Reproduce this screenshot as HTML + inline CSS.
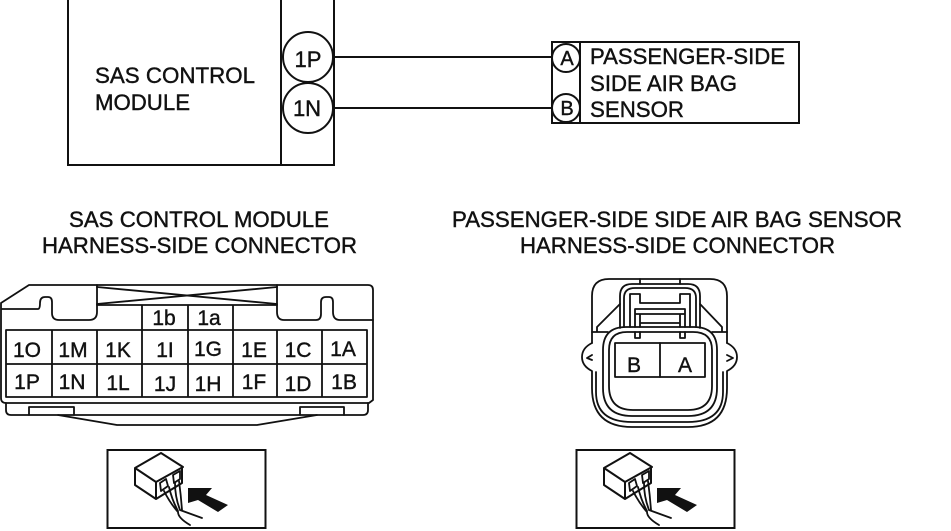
<!DOCTYPE html>
<html><head><meta charset="utf-8"><style>
html,body{margin:0;padding:0;background:#fff}
svg{display:block}
text{font-family:"Liberation Sans",sans-serif;fill:#111;font-size:22px;stroke:#111;stroke-width:.4}
.g text{font-size:21px;text-anchor:middle}
.l{fill:none;stroke:#111;stroke-width:1.8;stroke-linejoin:round;stroke-linecap:round}
.t{fill:none;stroke:#111;stroke-width:2}
</style></head><body>
<svg width="951" height="531" viewBox="0 0 951 531" xmlns="http://www.w3.org/2000/svg">
<defs><g id="ic">
<rect x="107.500" y="450" width="158" height="78" fill="none" stroke="#111" stroke-width="2"/>
<path class="l" style="stroke-width:2" d="M135,468L161,453L183,467L156,482ZM135,468V485L156,499V482M156,499L182,483V467"/>
<path class="l" d="M160,483L166,479L168,486L161,491ZM173,475L180,471V479L174,483Z"/>
<path class="l" d="M164,491Q170,503 178,512Q178,518 190,525M169,487Q172,500 178,511M175,483Q175,497 180,510L202,518M179,481Q181,496 182,510"/>
<path d="M188,488L212,488L206,495L228,505L218,512L198,500L188,503Z" fill="#111"/>
</g></defs>
<!-- top left module -->
<path class="t" d="M68,0V165H334V0M281,0V165"/>
<path class="t" d="M334,57H552M334,108H552"/>
<circle class="t" cx="308" cy="57" r="25"/>
<circle class="t" cx="308" cy="108" r="25"/>
<text x="308" y="67" text-anchor="middle" style="font-size:22px">1P</text>
<text x="307" y="116" text-anchor="middle" style="font-size:22px">1N</text>
<text x="95" y="83" textLength="160" lengthAdjust="spacingAndGlyphs">SAS CONTROL</text>
<text x="95" y="110" textLength="95" lengthAdjust="spacingAndGlyphs">MODULE</text>
<!-- top right -->
<rect class="t" x="552" y="42" width="247" height="81"/>
<path class="t" d="M580,42V123"/>
<circle class="t" cx="566" cy="58" r="14" style="fill:#fff"/>
<circle class="t" cx="566" cy="108" r="14" style="fill:#fff"/>
<text x="567" y="65" text-anchor="middle" style="font-size:20px">A</text>
<text x="567" y="115" text-anchor="middle" style="font-size:20px">B</text>
<text x="590" y="64" textLength="195" lengthAdjust="spacingAndGlyphs">PASSENGER-SIDE</text>
<text x="590" y="91" textLength="147" lengthAdjust="spacingAndGlyphs">SIDE AIR BAG</text>
<text x="590" y="117" textLength="94" lengthAdjust="spacingAndGlyphs">SENSOR</text>
<!-- headers -->
<text x="69" y="227" textLength="260" lengthAdjust="spacingAndGlyphs">SAS CONTROL MODULE</text>
<text x="42" y="253" textLength="315" lengthAdjust="spacingAndGlyphs">HARNESS-SIDE CONNECTOR</text>
<text x="452" y="227" textLength="450" lengthAdjust="spacingAndGlyphs">PASSENGER-SIDE SIDE AIR BAG SENSOR</text>
<text x="520" y="253" textLength="315" lengthAdjust="spacingAndGlyphs">HARNESS-SIDE CONNECTOR</text>
<!-- left connector -->
<path class="l" d="M1,303L29,285H368Q373,285 373,290V400L369,403H6Q1,403 1,398V303"/>
<path class="l" d="M2,309H38Q40,309 40,303Q40,297 45,297H48Q52,297 52,302V313Q52,320 59,320H89Q97,320 97,312V285"/>
<path class="l" d="M277,285V312Q277,320 284,320H316Q321,320 321,314V302Q321,297 326,297H329Q333,297 333,302V312Q333,320 340,320H373"/>
<path class="l" d="M97,287L277,304M97,304L277,287"/>
<path class="l" d="M97,305H277M142,305V330M188,305V330M233,305V330"/>
<path class="l" d="M6,330H367V397H6ZM6,364H367M52,330V397M97,330V397M142,330V397M188,330V397M233,330V397M277,330V397M322,330V397"/>
<path class="l" d="M6,403V410Q6,415 11,415H363Q368,415 368,410V403"/>
<path class="l" d="M29,415V407H74V415M300,415V407H344V415"/>
<path class="l" d="M58,415L117,425H257L317,415"/>
<g class="g">
<text x="164" y="325">1b</text><text x="209" y="325">1a</text>
<text x="27" y="357">1O</text><text x="73" y="357">1M</text><text x="118" y="357">1K</text><text x="165" y="357">1I</text><text x="208" y="356">1G</text><text x="254" y="357">1E</text><text x="298" y="357">1C</text><text x="343" y="356">1A</text>
<text x="27" y="389">1P</text><text x="72" y="389">1N</text><text x="118" y="390">1L</text><text x="165" y="391">1J</text><text x="208" y="391">1H</text><text x="254" y="389">1F</text><text x="298" y="391">1D</text><text x="344" y="389">1B</text>
</g>
<!-- right connector -->
<path class="l" d="M592,343V296Q592,279 609,279H710Q727,279 727,296V343"/>
<path class="l" d="M592,343Q582,348 582,357Q582,366 592,371V388Q592,427 632,427H688Q727,427 727,388V371Q737,366 737,357Q737,348 727,343"/>
<path class="l" d="M592,355L587,358L592,360M727,355L733,358L727,361"/>
<path class="l" d="M596,372V392Q596,422 632,422H688Q723,422 723,392V372"/>
<path class="l" d="M603,350Q603,327 626,327H694Q717,327 717,350V388Q717,416 688,416H632Q603,416 603,388Z"/>
<path class="l" d="M609,350Q609,332 627,332H693Q712,332 712,350V386Q712,410 688,410H633Q609,410 609,386Z"/>
<rect class="l" x="615" y="343" width="90" height="34"/>
<path class="l" d="M660,343V377"/>
<text x="634" y="372" text-anchor="middle" style="font-size:21px">B</text>
<text x="685" y="372" text-anchor="middle" style="font-size:21px">A</text>
<path class="l" d="M620,328V296Q620,284 632,284H688Q700,284 700,296V328"/>
<path class="l" d="M624,327V298Q624,288 635,288H685Q696,288 696,298V327"/>
<path class="l" d="M630,327V294H640V303H680V294H690V327"/>
<path class="l" d="M635,327V309H685V327M635,314H685M640,323H680M640,327V314M680,327V314"/>
<path class="l" d="M635,332V338H640V332M680,332V338H685V332"/>
<path class="l" d="M640,279V284M680,279V284"/>
<path class="l" d="M620,304L597,327V332M700,304L722,327V332M592,332H608M712,332H727"/>
<!-- icons -->
<use href="#ic"/>
<use href="#ic" transform="translate(469,0)"/>
</svg>
</body></html>
